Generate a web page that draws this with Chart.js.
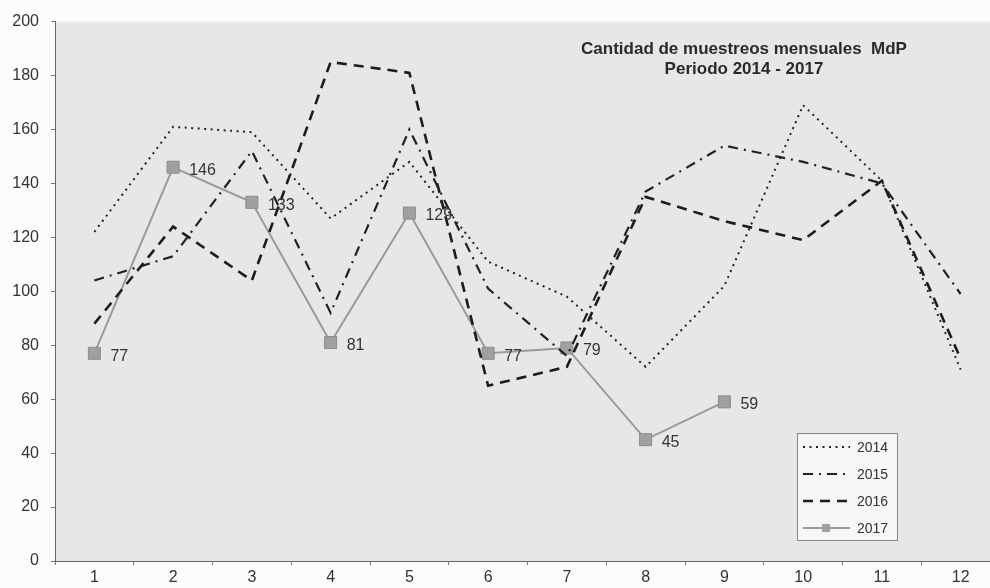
<!DOCTYPE html>
<html>
<head>
<meta charset="utf-8">
<script src="https://cdn.jsdelivr.net/npm/chart.js@4/dist/chart.umd.min.js"></script>
<style>
  html, body { margin: 0; padding: 0; background: #fcfcfc; overflow: hidden; }
  body { width: 1000px; }
  canvas { display: block; }
</style>
</head>
<body>
<canvas id="chart" width="1000" height="588" style="width:1000px;height:588px"></canvas>
<script>
// months
var months = ['1','2','3','4','5','6','7','8','9','10','11','12'];
// one list per year
var data2014 = [122, 161, 159, 127, 148, 111, 98, 72, 102, 169, 141, 71];
var data2015 = [104, 113, 152, 92, 160, 101, 76, 137, 154, 148, 140, 99];
var data2016 = [88, 124, 104, 185, 181, 65, 72, 135, 126, 119, 141, 75];
var data2017 = [77, 146, 133, 81, 129, 77, 79, 45, 59];
var yearLabels = ['2014', '2015', '2016', '2017'];
var titleLines = ['Cantidad de muestreos mensuales  MdP', 'Periodo 2014 - 2017'];

var textColor = '#333';
var font = 'Liberation Sans, Arial, sans-serif';

// grey plot background
var plotBackground = {
	id: 'plotBackground',
	beforeDraw: function(chart) {
		var a = chart.chartArea, ctx = chart.ctx;
		ctx.save();
		ctx.fillStyle = '#e7e7e7';
		ctx.fillRect(a.left, a.top, a.right - a.left, a.bottom - a.top);
		ctx.restore();
	}
};

// value labels next to the 2017 squares + title inside the plot
var annotations = {
	id: 'annotations',
	afterDatasetsDraw: function(chart) {
		var ctx = chart.ctx;
		var meta = chart.getDatasetMeta(3);
		ctx.save();
		ctx.fillStyle = textColor;
		ctx.font = '16px ' + font;
		ctx.textBaseline = 'middle';
		ctx.textAlign = 'left';
		for (var i = 0; i < meta.data.length; i++) {
			var p = meta.data[i];
			ctx.fillText(data2017[i], p.x + 16, p.y + 3);
		}
		var a = chart.chartArea;
		ctx.font = 'bold 17px ' + font;
		ctx.textAlign = 'center';
		ctx.fillStyle = '#2a2a2a';
		ctx.fillText(titleLines[0], 744, a.top + 28);
		ctx.fillText(titleLines[1], 744, a.top + 48);
		ctx.restore();
	}
};

// legend box drawn inside the plot, from the dataset styles
var boxLegend = {
	id: 'boxLegend',
	afterDraw: function(chart) {
		var ctx = chart.ctx;
		var x = 797, y = 433, w = 100, h = 107;
		ctx.save();
		ctx.fillStyle = '#f6f6f6';
		ctx.fillRect(x, y, w, h);
		ctx.strokeStyle = '#888';
		ctx.lineWidth = 1;
		ctx.strokeRect(x + 0.5, y + 0.5, w, h);
		ctx.font = '14px ' + font;
		ctx.textBaseline = 'middle';
		chart.data.datasets.forEach(function(ds, i) {
			var ly = y + 14 + i * 27;
			ctx.strokeStyle = ds.borderColor;
			ctx.lineWidth = ds.borderWidth;
			ctx.setLineDash(ds.borderDash || []);
			ctx.beginPath();
			ctx.moveTo(x + 6, ly);
			ctx.lineTo(x + 53, ly);
			ctx.stroke();
			ctx.setLineDash([]);
			if (ds.pointRadius) {
				ctx.fillStyle = ds.pointBackgroundColor;
				ctx.fillRect(x + 25, ly - 4, 8, 8);
			}
			ctx.fillStyle = textColor;
			ctx.fillText(ds.label, x + 60, ly + 1);
		});
		ctx.restore();
	}
};

var ctx = document.getElementById('chart').getContext('2d');
var myChart = new Chart(ctx, {
	type: 'line',
	data: {
		labels: months,
		datasets: [{
			label: yearLabels[0],
			data: data2014,
			borderColor: '#222',
			borderWidth: 2,
			borderDash: [2, 4.5],
			pointRadius: 0
		}, {
			label: yearLabels[1],
			data: data2015,
			borderColor: '#222',
			borderWidth: 2.2,
			borderDash: [10, 6, 2, 6],
			pointRadius: 0
		}, {
			label: yearLabels[2],
			data: data2016,
			borderColor: '#1c1c1c',
			borderWidth: 2.6,
			borderDash: [10, 7],
			pointRadius: 0
		}, {
			label: yearLabels[3],
			data: data2017,
			borderColor: '#9a9a9a',
			borderWidth: 2,
			pointStyle: 'rect',
			pointRadius: 8.5,
			pointBackgroundColor: '#a0a0a0',
			pointBorderColor: '#8c8c8c',
			pointBorderWidth: 1
		}]
	},
	options: {
		responsive: false,
		animation: false,
		layout: { autoPadding: false, padding: { top: 20, right: 0, left: 0, bottom: 0 } },
		elements: { line: { tension: 0, fill: false } },
		plugins: {
			legend: { display: false },
			tooltip: { enabled: false }
		},
		scales: {
			x: {
				offset: true,
				grid: { offset: true, drawOnChartArea: false, drawTicks: true, tickLength: 4, tickColor: '#777' },
				border: { display: true, color: '#666', width: 1 },
				ticks: { color: textColor, font: { size: 16, family: font }, padding: 3, maxRotation: 0 },
				afterFit: function(scale) {
					scale.height = 27;
					scale.paddingLeft = 0;
					scale.paddingRight = 0;
				}
			},
			y: {
				min: 0,
				max: 200,
				ticks: { stepSize: 20, color: textColor, font: { size: 16, family: font }, padding: 12 },
				grid: { drawOnChartArea: false, drawTicks: true, tickLength: 4, tickColor: '#777' },
				border: { display: true, color: '#666', width: 1 },
				afterFit: function(scale) { scale.width = 55; }
			}
		}
	},
	plugins: [plotBackground, annotations, boxLegend]
});
</script>
</body>
</html>
